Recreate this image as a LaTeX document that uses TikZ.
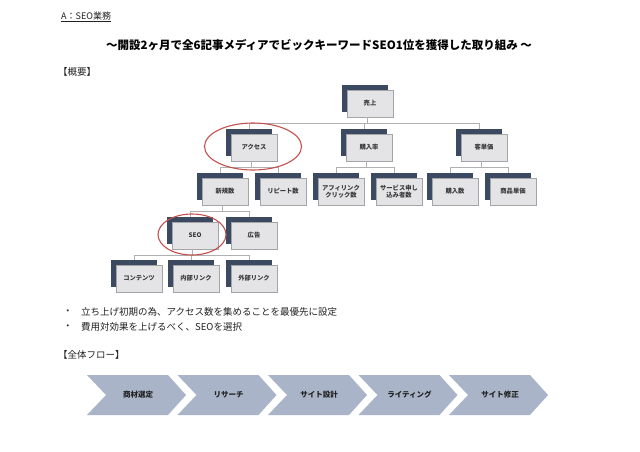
\documentclass[tikz,border=0pt]{standalone}
\usepackage{fontspec}
\setmainfont{Noto Sans CJK JP}
\usetikzlibrary{shadows,calc}
\definecolor{navy}{HTML}{3B4A60}
\definecolor{cardfill}{HTML}{E4E4E7}
\definecolor{cardline}{HTML}{A4A5AB}
\definecolor{cardtext}{HTML}{3A3A3A}
\definecolor{connline}{HTML}{B0B0B0}
\definecolor{redring}{HTML}{C4504E}
\definecolor{chevfill}{HTML}{A9B4C8}
\definecolor{bodytext}{HTML}{222222}
\tikzset{
  card/.style={rectangle, minimum width=46pt, minimum height=27pt, inner sep=1pt,
    fill=cardfill, draw=cardline, line width=0.5pt, align=center, text=cardtext,
    font=\fontsize{6.3}{7.5}\selectfont\bfseries,
    copy shadow={shadow xshift=-5pt, shadow yshift=5pt, fill=navy, draw=none}},
  connector/.style={draw=connline, line width=0.6pt},
  ring/.style={draw=redring, line width=1.1pt},
  chev/.style={fill=chevfill},
  chevtext/.style={font=\fontsize{7.5}{9}\selectfont\bfseries, text=bodytext},
  plain/.style={anchor=west, inner sep=0pt, text=bodytext, font=\fontsize{9.5}{11}\selectfont}
}
\begin{document}
\begin{tikzpicture}[x=1pt,y=-1pt]
\useasboundingbox (0,0) rectangle (640,451);
\fill[white] (0,0) rectangle (640,451);

% header texts
\node[plain, font=\fontsize{9}{11}\selectfont] (hdr) at (61,17) {\underline{A：SEO業務}};
\node[inner sep=0pt, text=black, font=\fontsize{11.5}{13}\selectfont\bfseries] (title) at (319,45)
  {〜開設2ヶ月で全6記事メディアでビックキーワードSEO1位を獲得した取り組み 〜};
\node[plain] (gaiyou) at (58,72) {【概要】};

% tree
\node[card] (uriage) at (370,103.5) {売上};
\node[card] (access) at (254,147.5) {アクセス};
\node[card] (kounyuritsu) at (369,147.5) {購入率};
\node[card] (kyakutanka) at (484,147.5) {客単価};
\node[card] (shinki) at (225,191.5) {新規数};
\node[card] (repeat) at (283,191.5) {リピート数};
\node[card] (affi) at (341,191.5) {アフィリンク\\クリック数};
\node[card] (service) at (399,191.5) {サービス申し\\込み者数};
\node[card] (kounyusu) at (455,191.5) {購入数};
\node[card] (shouhin) at (513,191.5) {商品単価};
\node[card] (seo) at (195,235.5) {SEO};
\node[card] (koukoku) at (254,235.5) {広告};
\node[card] (contents) at (139,278.5) {コンテンツ};
\node[card] (naibu) at (196,278.5) {内部リンク};
\node[card] (gaibu) at (254,278.5) {外部リンク};

\foreach \p/\c in {uriage/access, uriage/kounyuritsu, uriage/kyakutanka,
  access/shinki, access/repeat, kounyuritsu/affi, kounyuritsu/service,
  kyakutanka/kounyusu, kyakutanka/shouhin, shinki/seo, shinki/koukoku,
  seo/contents, seo/naibu, seo/gaibu}
  \draw[connector] ($(\p.south)+(-3,0)$) -- ++(0,6.5) -| ($(\c.north)+(-5,-5)$);

\draw[ring] (253,146.5) ellipse [x radius=48.5, y radius=23.5];
\draw[ring] (192,234.5) ellipse [x radius=34, y radius=20.5];

% bullets
\node[plain] (b1dot) at (63,312) {・};
\node[plain] (b1) at (81,312) {立ち上げ初期の為、アクセス数を集めることを最優先に設定};
\node[plain] (b2dot) at (63,327) {・};
\node[plain] (b2) at (81,327) {費用対効果を上げるべく、SEOを選択};
\node[plain] (flow) at (58,355) {【全体フロー】};

% flow chevrons
\foreach \i/\t in {0/商材選定, 1/リサーチ, 2/サイト設計, 3/ライティング, 4/サイト修正} {
  \pgfmathsetmacro\xo{87+90.5*\i}
  \fill[chev] (\xo,375) -- ++(81,0) -- ++(18,20) -- ++(-18,20) -- ++(-81,0) -- ++(19,-20) -- cycle;
  \node[chevtext] (f\i) at (\xo+51,395) {\t};
}
\end{tikzpicture}
\end{document}
